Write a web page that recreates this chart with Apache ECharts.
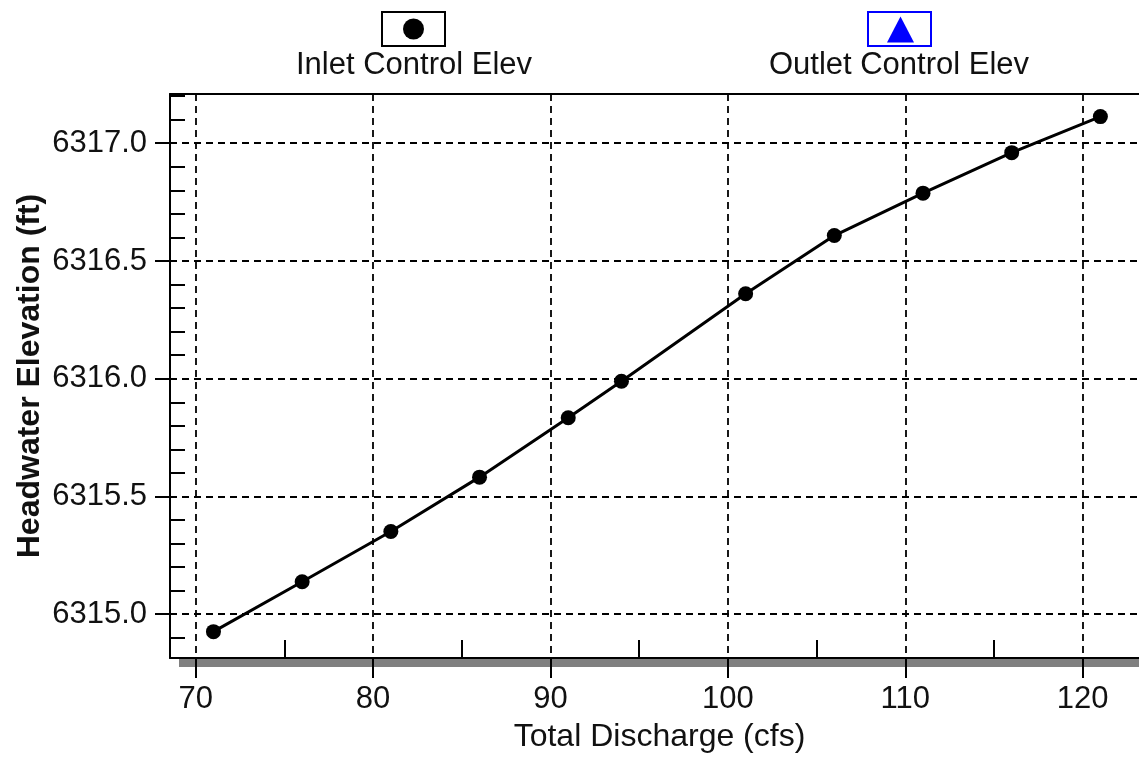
<!DOCTYPE html>
<html>
<head>
<meta charset="utf-8">
<script src="https://cdn.jsdelivr.net/npm/echarts@6/dist/echarts.min.js"></script>
<style>
  html, body { margin: 0; padding: 0; background: #fff; }
  #chart { width: 1139px; height: 760px; }
</style>
</head>
<body>
<div id="chart"></div>
<script>
// Headwater elevation vs total discharge (culvert performance curve)
const discharge = [71, 76, 81, 86, 91, 94, 101, 106, 111, 116, 121];
const inletElev = [6314.926, 6315.138, 6315.351, 6315.582, 6315.834, 6315.989,
                   6316.361, 6316.608, 6316.788, 6316.960, 6317.113];
const outletElev = [];   // no outlet-control points plotted

const xMajorTicks = [70, 80, 90, 100, 110, 120];
const xMinorTicks = [75, 85, 95, 105, 115];
const yMajorTicks = [6315.0, 6315.5, 6316.0, 6316.5, 6317.0];
const yMinorTicks = [6314.9, 6315.1, 6315.2, 6315.3, 6315.4, 6315.6, 6315.7, 6315.8, 6315.9,
                     6316.1, 6316.2, 6316.3, 6316.4, 6316.6, 6316.7, 6316.8, 6316.9,
                     6317.1, 6317.2];

const seriesNames = ['Inlet Control Elev', 'Outlet Control Elev'];
const xTitle = 'Total Discharge (cfs)';
const yTitle = 'Headwater Elevation (ft)';

const FONT = '"Liberation Sans", Arial, sans-serif';
const gridDash = { color: '#000', width: 1.8, type: [7, 5] };
const X_MIN = 68.55, X_MAX = 123.74;
const Y_MIN = 6314.814, Y_MAX = 6317.209;

const chart = echarts.init(document.getElementById('chart'), null, { renderer: 'canvas' });

const option = {
  animation: false,
  backgroundColor: '#fff',
  grid: {
    left: 170, right: -10, top: 94, bottom: 102,
    outerBoundsMode: 'none',
    containLabel: false,
    show: true,
    backgroundColor: '#fff',
    borderWidth: 0,
    shadowColor: '#808080',
    shadowBlur: 0,
    shadowOffsetX: 9,
    shadowOffsetY: 9
  },
  xAxis: [
    {
      type: 'value', position: 'bottom',
      min: X_MIN, max: X_MAX,
      name: xTitle, nameLocation: 'middle', nameGap: 63, nameMoveOverlap: false,
      nameTextStyle: { fontFamily: FONT, fontSize: 32, color: '#111' },
      axisLine: { show: true, onZero: false, lineStyle: { color: '#000', width: 2 } },
      axisTick: { show: true, inside: false, length: 20, customValues: xMajorTicks,
                  lineStyle: { color: '#000', width: 2 } },
      axisLabel: { customValues: xMajorTicks, margin: 26, fontFamily: FONT, fontSize: 31, color: '#111' },
      splitLine: { show: true, lineStyle: gridDash }
    },
    {
      type: 'value', position: 'bottom',
      min: X_MIN, max: X_MAX,
      axisLine: { show: false },
      axisTick: { show: true, inside: true, length: 18, customValues: xMinorTicks,
                  lineStyle: { color: '#000', width: 2 } },
      axisLabel: { show: false },
      splitLine: { show: false }
    },
    {
      // top frame edge
      type: 'value', position: 'top',
      min: X_MIN, max: X_MAX,
      axisLine: { show: true, onZero: false, lineStyle: { color: '#000', width: 2 } },
      axisTick: { show: false },
      axisLabel: { show: false },
      splitLine: { show: false }
    }
  ],
  yAxis: [
    {
      type: 'value', position: 'left',
      min: Y_MIN, max: Y_MAX,
      name: yTitle, nameLocation: 'middle', nameGap: 124, nameMoveOverlap: false,
      nameTextStyle: { fontFamily: FONT, fontSize: 32, fontWeight: 'bold', color: '#111' },
      axisLine: { show: true, onZero: false, lineStyle: { color: '#000', width: 2 } },
      axisTick: { show: true, inside: false, length: 15, customValues: yMajorTicks,
                  lineStyle: { color: '#000', width: 2 } },
      axisLabel: { customValues: yMajorTicks, margin: 23, fontFamily: FONT, fontSize: 31, color: '#111',
                   formatter: v => v.toFixed(1) },
      splitLine: { show: true, lineStyle: gridDash }
    },
    {
      type: 'value', position: 'left',
      min: Y_MIN, max: Y_MAX,
      axisLine: { show: false },
      axisTick: { show: true, inside: true, length: 15, customValues: yMinorTicks,
                  lineStyle: { color: '#000', width: 2 } },
      axisLabel: { show: false },
      splitLine: { show: false }
    }
  ],
  series: [
    {
      name: seriesNames[0], type: 'line',
      xAxisIndex: 0, yAxisIndex: 0,
      data: discharge.map((q, i) => [q, inletElev[i]]),
      symbol: 'circle', symbolSize: 15,
      itemStyle: { color: '#000' },
      lineStyle: { color: '#000', width: 3 },
      z: 5
    },
    {
      name: seriesNames[1], type: 'line',
      xAxisIndex: 0, yAxisIndex: 0,
      data: outletElev,
      symbol: 'triangle', symbolSize: 15,
      itemStyle: { color: '#0000ff' },
      lineStyle: { color: '#0000ff', width: 3 }
    }
  ],
  // Boxed legend keys with captions underneath
  graphic: [
    { type: 'rect', shape: { x: 382, y: 12, width: 63, height: 34 },
      style: { fill: '#fff', stroke: '#000', lineWidth: 2 } },
    { type: 'circle', shape: { cx: 413.5, cy: 29, r: 10.5 }, style: { fill: '#000' } },
    { type: 'text', x: 414, y: 65,
      style: { text: seriesNames[0], font: '31px ' + FONT, fill: '#111',
               align: 'center', verticalAlign: 'middle' } },
    { type: 'rect', shape: { x: 868, y: 12, width: 63, height: 34 },
      style: { fill: '#fff', stroke: '#0000ff', lineWidth: 2 } },
    { type: 'polygon', shape: { points: [[887, 42.5], [914, 42.5], [900.5, 16.5]] },
      style: { fill: '#0000ff' } },
    { type: 'text', x: 899, y: 65,
      style: { text: seriesNames[1], font: '31px ' + FONT, fill: '#111',
               align: 'center', verticalAlign: 'middle' } }
  ]
};

chart.setOption(option);
</script>
</body>
</html>
